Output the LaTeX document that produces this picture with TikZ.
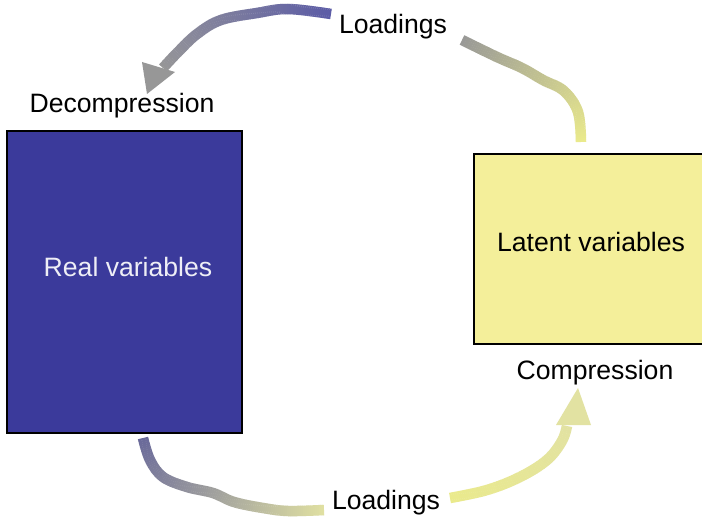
\documentclass[tikz,border=0pt]{standalone}
\usepackage{fontspec}
\setmainfont{Liberation Sans}
\definecolor{boxblue}{HTML}{3B3A9B}
\definecolor{boxyellow}{HTML}{F4EF9A}
\definecolor{arrpurple}{HTML}{5C5CA6}
\definecolor{arrgrey}{HTML}{979797}
\definecolor{arryellow}{HTML}{EAEA8C}
\definecolor{arrpale}{HTML}{E2E2A2}
\definecolor{arrslate}{HTML}{6A6A9A}
\definecolor{realtext}{HTML}{EEEEF6}
\tikzset{
  lbl/.style={font=\fontsize{26.6}{30}\selectfont, inner sep=0pt},
  varbox/.style={draw=black, line width=1.8pt, inner sep=0pt},
  gradseg/.style={line width=10.5pt, line cap=butt}
}
% #1 start colour, #2 end colour, #3 approx. length (pt), #4 coordinates
\newcommand\gradstroke[4]{%
  \pgfmathtruncatemacro\gN{#3/2}%
  \foreach \gi in {0,...,\gN}{%
    \pgfmathsetmacro\gpct{min(100,\gi/#3*200)}%
    \pgfmathsetmacro\gph{2002.3-2*\gi}%
    \draw[gradseg, draw=#2!\gpct!#1, dash pattern=on 2.3pt off 2000pt, dash phase=\gph pt]
      plot[smooth, tension=0.6] coordinates {#4};}}
\begin{document}
\begin{tikzpicture}[x=1pt,y=-1pt]
\clip (0,0) rectangle (702,524);
\fill[white] (0,0) rectangle (702,524);
% boxes
\node[varbox, fill=boxblue, minimum width=235pt, minimum height=302pt] (real) at (124.5,282) {};
\node[varbox, fill=boxyellow, minimum width=240pt, minimum height=190pt] (latent) at (594,249) {};
% labels
\node[lbl, text=realtext] (realtxt) at (128,267) {Real variables};
\node[lbl] (latenttxt) at (591,242) {Latent variables};
\node[lbl] (decomp) at (122,106) {Decompression};
\node[lbl] (comp) at (595,373) {Compression};
\node[lbl] (loadtop) at (393,27) {Loadings};
\node[lbl] (loadbot) at (386,503) {Loadings};
% anchor coordinates
\coordinate (tA) at (581,142);
\coordinate (tB) at (462,40);
\coordinate (tC) at (331,14);
\coordinate (tD) at (163,68);
\coordinate (tTip) at (147,94);
\coordinate (bA) at (143,438);
\coordinate (bB) at (324,510);
\coordinate (bC) at (450,498);
\coordinate (bD) at (567,426);
\coordinate (bTip) at (578,388);
% top arrow, right part (yellow -> grey)
\gradstroke{arryellow}{arrgrey}{172}{(tA) (578,112) (564,91) (543,80) (522,68) (497,57) (tB)}
% top arrow, left part (purple -> grey)
\gradstroke{arrpurple}{arrgrey}{190}{(tC) (288,9) (257,13) (221,20) (197,34) (177,53) (tD)}
\fill[arrgrey] (tTip) -- (142,62) -- (175,72) -- cycle;
% bottom arrow, left part (slate -> pale yellow)
\gradstroke{arrslate}{arrpale}{214}{(bA) (150,460) (163,477) (187,487) (213,493) (234,502) (263,508) (288,511) (bB)}
% bottom arrow, right part (yellow)
\gradstroke{arryellow}{arrpale}{148}{(bC) (487,490) (520,477) (547,460) (562,441) (bD)}
\fill[arrpale] (bTip) -- (556,425) -- (591,425) -- cycle;
\end{tikzpicture}
\end{document}
